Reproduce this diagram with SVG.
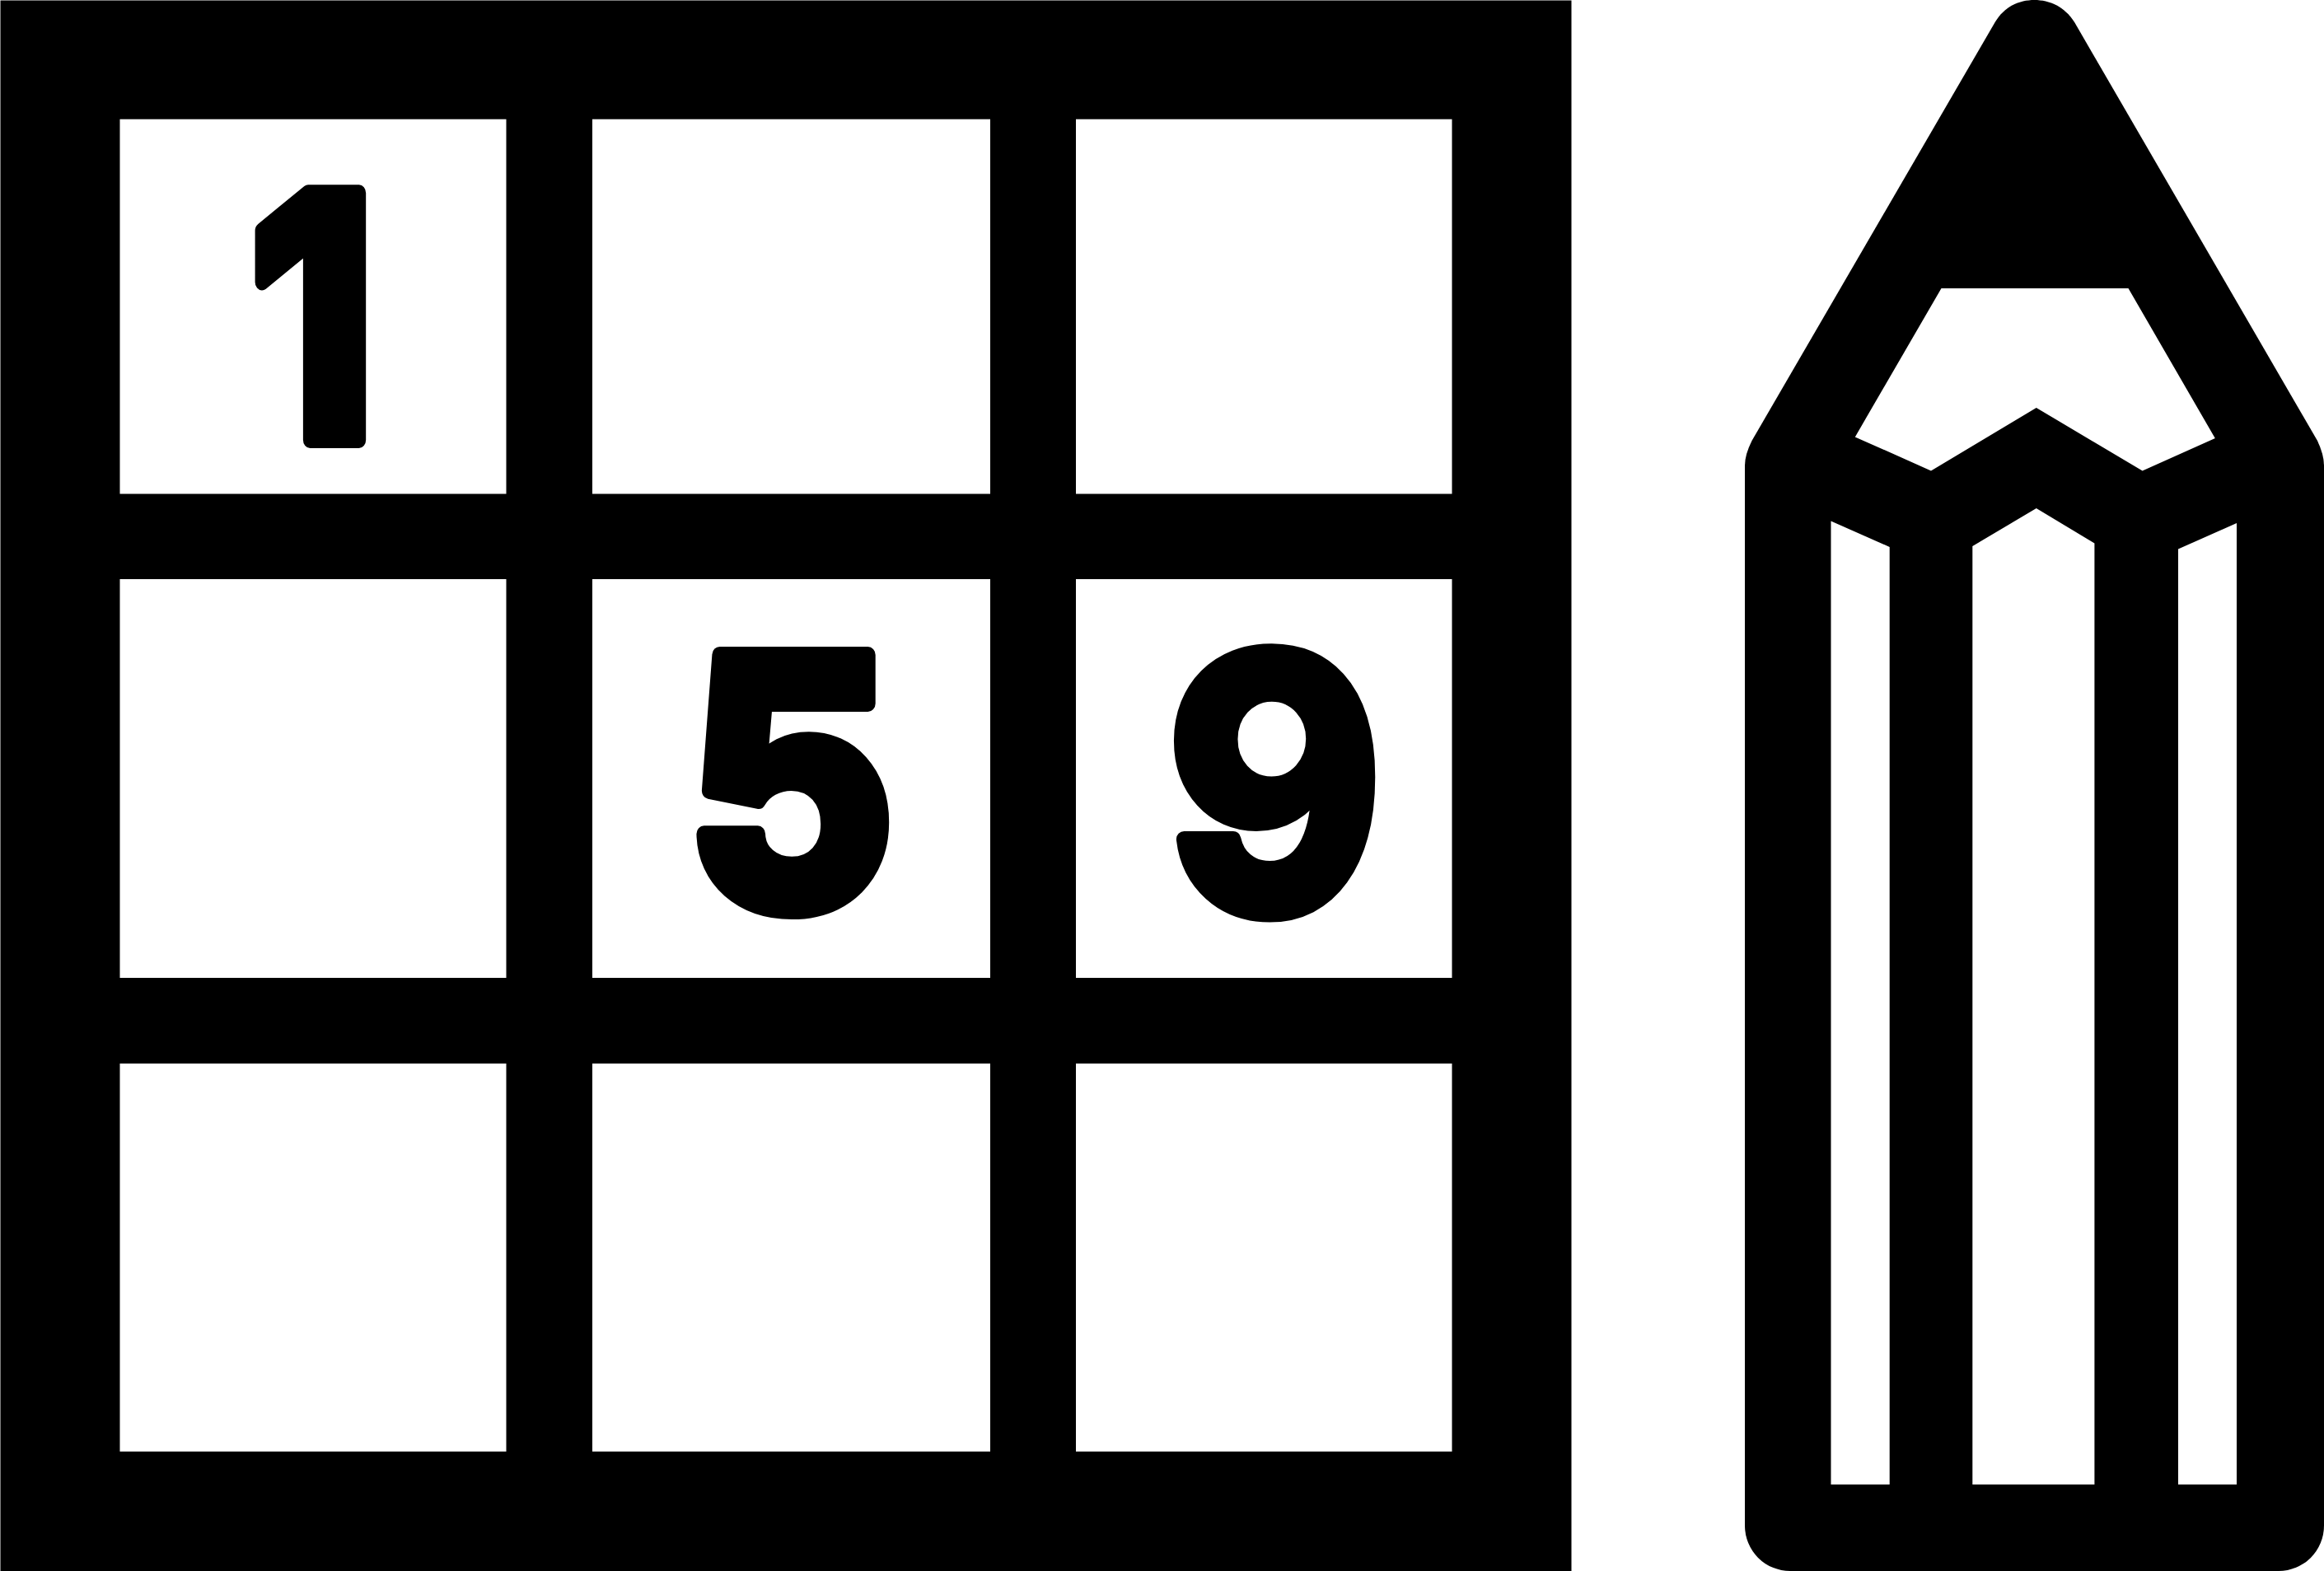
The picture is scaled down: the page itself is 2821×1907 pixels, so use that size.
<svg xmlns="http://www.w3.org/2000/svg" width="2821" height="1907" viewBox="0 0 2821 1907">
<style>
.cell{fill:#fff}
.d{font-family:"Inter","Lato","Liberation Sans",sans-serif;font-weight:800;fill:#000;stroke:#000;stroke-width:20;stroke-linejoin:round}
.n{font-weight:700}
</style>
<rect width="2821" height="1907" fill="#fff"/>
<g id="grid">
<rect x="0.5" y="0.5" width="1907" height="1906.5" fill="#000"/>
<rect class="cell" x="145.5" y="144.7" width="469" height="454.8"/>
<rect class="cell" x="719" y="144.7" width="483" height="454.8"/>
<rect class="cell" x="1306" y="144.7" width="456.5" height="454.8"/>
<rect class="cell" x="145.5" y="703" width="469" height="484"/>
<rect class="cell" x="719" y="703" width="483" height="484"/>
<rect class="cell" x="1306" y="703" width="456.5" height="484"/>
<rect class="cell" x="145.5" y="1291" width="469" height="471"/>
<rect class="cell" x="719" y="1291" width="483" height="471"/>
<rect class="cell" x="1306" y="1291" width="456.5" height="471"/>
</g>
<g id="digits">
<text class="d" font-size="412" text-anchor="middle" transform="translate(379 534) scale(.84 1)">1</text>
<text class="d" font-size="422" text-anchor="middle" transform="translate(959 1102) scale(.92 1)">5</text>
<text class="d n" font-size="425" text-anchor="middle" transform="translate(1547 1105) scale(.95 1)">9</text>
</g>
<g id="pencil">
<path fill="#000" d="M2118 565Q2118 552 2126.5 535L2421.8 26.8C2433 8 2451 0 2469.4 0S2506 8 2518 26.8L2813 535Q2821 552 2821 565V1852A55 55 0 0 1 2766 1907H2173A55 55 0 0 1 2118 1852Z"/>
<path class="cell" d="M2356.5 350H2583.5L2688.8 532L2600.6 571.4L2471.8 495L2344 571.4L2251.8 530.4Z"/>
<path class="cell" d="M2222.5 632.6L2293.7 664V1802H2222.5Z"/>
<path class="cell" d="M2394.3 663L2471.8 617L2542.4 659.4V1802H2394.3Z"/>
<path class="cell" d="M2644 666.5L2715 635V1802H2644Z"/>
</g>
</svg>
